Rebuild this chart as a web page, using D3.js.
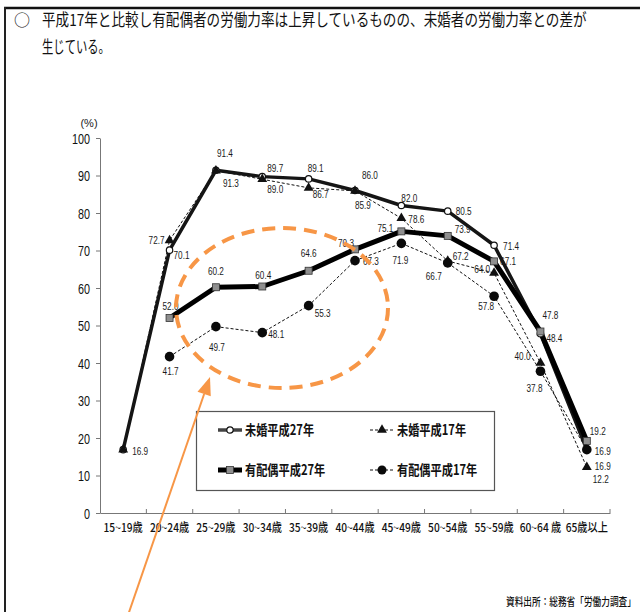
<!DOCTYPE html>
<html>
<head>
<meta charset="utf-8">
<script src="https://cdn.jsdelivr.net/npm/d3@7"></script>
<style>
  html, body { margin: 0; padding: 0; background: #fff; }
  svg { display: block; }
</style>
</head>
<body>
<svg id="chart" width="640" height="612"></svg>
<script>
// ---- data ----
const categories = ["15~19歳", "20~24歳", "25~29歳", "30~34歳", "35~39歳", "40~44歳",
                    "45~49歳", "50~54歳", "55~59歳", "60~64 歳", "65歳以上"];
const yTicks = [0, 10, 20, 30, 40, 50, 60, 70, 80, 90, 100];

const unmarried2015 = [16.9, 70.1, 91.4, 89.7, 89.1, 86.0, 82.0, 80.5, 71.4, 47.8, 16.9];
const unmarried2005 = [16.9, 72.7, 91.3, 89.0, 86.7, 85.9, 78.6, 67.2, 64.0, 40.0, 12.2];
const married2015   = [null, 52.0, 60.2, 60.4, 64.6, 70.3, 75.1, 73.9, 67.1, 48.4, 19.2];
const married2005   = [null, 41.7, 49.7, 48.1, 55.3, 67.3, 71.9, 66.7, 57.8, 37.8, 16.9];

const seriesNames = ["未婚平成27年", "未婚平成17年", "有配偶平成27年", "有配偶平成17年"];
const titleLines = ["平成17年と比較し有配偶者の労働力率は上昇しているものの、未婚者の労働力率との差が",
                    "生じている。"];
const unitLabel = "(%)";
const sourceNote = "資料出所：総務省「労働力調査」";

// ---- value label placement (offset from the point: dx, dy, anchor) ----
const offUnmarried2015 = [[9,5,"start"],[4,9,"start"],[9,-13,"middle"],[5,-5,"start"],[-1,-7,"start"],
  [7,-12,"start"],[0,-4,"start"],[8,4,"start"],[9,5,"start"],[2,-15,"start"],[8,20,"start"]];
const offUnmarried2005 = [null,[-5,4,"end"],[7,16,"start"],[5,14,"start"],[4,10,"start"],
  [0,18,"start"],[7,5,"start"],[5,-1,"start"],[-4,0,"end"],[-10,-3,"end"],[6,16,"start"]];
const offMarried2015 = [null,[-7,-8,"start"],[0,-12,"middle"],[1,-8,"middle"],[0,-14,"middle"],
  [-1,-2,"end"],[-8,1,"end"],[7,-3,"start"],[6,4,"start"],[6,10,"start"],[3,-6,"start"]];
const offMarried2005 = [null,[1,18,"middle"],[1,24,"middle"],[6,5,"start"],[6,11,"start"],
  [8,4,"start"],[-1,21,"middle"],[-6,17,"end"],[0,14,"end"],[2,21,"end"],[8,5,"start"]];

// ---- setup ----
const svg = d3.select("#chart");
const CJK = "'Noto Sans CJK JP', 'Noto Sans', sans-serif";
const LAT = "'Liberation Sans', Arial, sans-serif";
const ORANGE = "#F79646";

const x = d3.scaleBand().domain(categories).range([100, 610]).padding(0);
const cx = c => x(c) + x.bandwidth() / 2;
const y = d3.scaleLinear().domain([0, 100]).range([513, 138]);

// text squeezed horizontally to a given width
function fittedText(parent, tx, ty, str, width, attrs) {
  const g = parent.append("g").attr("transform", `translate(${tx},${ty})`);
  const t = g.append("text").text(str);
  Object.entries(attrs).forEach(([k, v]) => t.attr(k, v));
  const w = t.node().getComputedTextLength();
  t.attr("transform", `scale(${width / w},1)`);
  return t;
}

// page frame
svg.append("line").attr("x1", 4).attr("x2", 640).attr("y1", 8).attr("y2", 8)
  .attr("stroke", "#111").attr("stroke-width", 2.5);
svg.append("line").attr("x1", 5).attr("x2", 5).attr("y1", 7).attr("y2", 612)
  .attr("stroke", "#222").attr("stroke-width", 2);

// heading
svg.append("text").attr("x", 14).attr("y", 26).attr("font-family", CJK)
  .attr("font-size", 16).attr("fill", "#111").text("○");
const headAttrs = { "font-family": CJK, "font-size": 16.5, "fill": "#111" };
fittedText(svg, 42, 26, titleLines[0], 545, headAttrs);
fittedText(svg, 42, 53, titleLines[1], 68, headAttrs);

// y axis
const gy = svg.append("g").attr("transform", "translate(100,0)")
  .call(d3.axisLeft(y).tickValues(yTicks).tickSize(4).tickSizeOuter(0));
gy.select(".domain").attr("stroke", "#777").attr("stroke-width", 1);
gy.selectAll(".tick line").attr("stroke", "#777");
gy.selectAll(".tick text")
  .attr("font-family", LAT).attr("font-size", 15).attr("fill", "#111")
  .attr("transform", "scale(0.72,1)").attr("x", -10 / 0.72).attr("dy", "0.36em");

svg.append("text").attr("x", 89).attr("y", 127).attr("text-anchor", "middle")
  .attr("font-family", LAT).attr("font-size", 11).attr("fill", "#222").text(unitLabel);

// x axis
const gx = svg.append("g").attr("transform", "translate(0,513)")
  .call(d3.axisBottom(x).tickSize(0).tickSizeOuter(0).tickPadding(10));
gx.select(".domain").attr("stroke", "#777").attr("stroke-width", 1);
gx.selectAll(".tick text")
  .attr("font-family", CJK).attr("font-size", 12).attr("font-weight", 500).attr("fill", "#111")
  .attr("transform", "scale(0.85,1)");
gx.selectAll("line.bound")
  .data(categories.slice(1).map(c => x(c)).concat([x.range()[1]]))
  .join("line").attr("class", "bound")
  .attr("x1", d => d).attr("x2", d => d).attr("y1", 0).attr("y2", -4)
  .attr("stroke", "#777");

// ---- series ----
const toPoints = vals => vals.map((v, i) => ({ c: categories[i], v }));
const line = d3.line().defined(d => d.v != null).x(d => cx(d.c)).y(d => y(d.v));

const series = [
  { name: seriesNames[1], pts: toPoints(unmarried2005), off: offUnmarried2005,
    stroke: "#111", width: 1, dash: "3,2" },
  { name: seriesNames[3], pts: toPoints(married2005), off: offMarried2005,
    stroke: "#111", width: 1, dash: "3,2" },
  { name: seriesNames[0], pts: toPoints(unmarried2015), off: offUnmarried2015,
    stroke: "#151515", width: 3.5, dash: null },
  { name: seriesNames[2], pts: toPoints(married2015), off: offMarried2015,
    stroke: "#000", width: 5, dash: null }
];

const gLines = svg.append("g");
series.forEach(s => {
  gLines.append("path").datum(s.pts)
    .attr("d", line).attr("fill", "none")
    .attr("stroke", s.stroke).attr("stroke-width", s.width)
    .attr("stroke-dasharray", s.dash).attr("stroke-linejoin", "round");
});

const byName = n => series.find(s => s.name === n);
const valid = s => s.pts.filter(d => d.v != null);
const gMarks = svg.append("g");

// open circles: 未婚平成27年
gMarks.selectAll("circle.u15").data(valid(byName(seriesNames[0]))).join("circle")
  .attr("class", "u15").attr("cx", d => cx(d.c)).attr("cy", d => y(d.v)).attr("r", 3.2)
  .attr("fill", "#fff").attr("stroke", "#111").attr("stroke-width", 1.2);
// grey squares: 有配偶平成27年
gMarks.selectAll("rect.m15").data(valid(byName(seriesNames[2]))).join("rect")
  .attr("class", "m15").attr("x", d => cx(d.c) - 3.5).attr("y", d => y(d.v) - 3.5)
  .attr("width", 7).attr("height", 7)
  .attr("fill", "#8f8f8f").attr("stroke", "#333").attr("stroke-width", 0.8);
// triangles: 未婚平成17年
const tri = d3.symbol().type(d3.symbolTriangle).size(42);
gMarks.selectAll("path.u05").data(valid(byName(seriesNames[1]))).join("path")
  .attr("class", "u05").attr("d", tri)
  .attr("transform", d => `translate(${cx(d.c)},${y(d.v)})`).attr("fill", "#111");
// filled circles: 有配偶平成17年
gMarks.selectAll("circle.m05").data(valid(byName(seriesNames[3]))).join("circle")
  .attr("class", "m05").attr("cx", d => cx(d.c)).attr("cy", d => y(d.v)).attr("r", 4.8)
  .attr("fill", "#0a0a0a");

// value labels
const gLab = svg.append("g");
series.forEach(s => {
  s.pts.forEach((d, i) => {
    const o = s.off[i];
    if (d.v == null || !o) return;
    gLab.append("g")
      .attr("transform", `translate(${cx(d.c) + o[0]},${y(d.v) + o[1]})`)
      .append("text").attr("transform", "scale(0.78,1)")
      .attr("text-anchor", o[2]).attr("font-family", LAT).attr("font-size", 10.5)
      .attr("fill", "#1a1a1a").text(d.v.toFixed(1));
  });
});

// ---- legend ----
const gLeg = svg.append("g");
gLeg.append("rect").attr("x", 196.5).attr("y", 411.5).attr("width", 298).attr("height", 79)
  .attr("fill", "#fff").attr("stroke", "#555").attr("stroke-width", 1.2);

const legendItems = [
  { name: seriesNames[0], x: 218, y: 430, kind: "u15" },
  { name: seriesNames[1], x: 370, y: 430, kind: "u05" },
  { name: seriesNames[2], x: 218, y: 470, kind: "m15" },
  { name: seriesNames[3], x: 370, y: 470, kind: "m05" }
];
legendItems.forEach(it => {
  const g = gLeg.append("g").attr("transform", `translate(${it.x},${it.y})`);
  const s = byName(it.name);
  g.append("line").attr("x1", 0).attr("x2", 24).attr("y1", 0).attr("y2", 0)
    .attr("stroke", it.kind === "u15" ? "#444" : s.stroke).attr("stroke-width", s.width)
    .attr("stroke-dasharray", s.dash);
  if (it.kind === "u15") {
    g.append("circle").attr("cx", 12).attr("r", 3.2).attr("fill", "#fff")
      .attr("stroke", "#111").attr("stroke-width", 1.2);
  } else if (it.kind === "m15") {
    g.append("rect").attr("x", 8.5).attr("y", -3.5).attr("width", 7).attr("height", 7)
      .attr("fill", "#8f8f8f").attr("stroke", "#333").attr("stroke-width", 0.8);
  } else if (it.kind === "u05") {
    g.append("path").attr("d", tri).attr("transform", "translate(12,0)").attr("fill", "#111");
  } else {
    g.append("circle").attr("cx", 12).attr("r", 4.5).attr("fill", "#0a0a0a");
  }
  g.append("g").attr("transform", "translate(27,5)")
    .append("text").attr("transform", "scale(0.8,1)")
    .attr("font-family", CJK).attr("font-size", 14).attr("font-weight", 700)
    .attr("fill", "#111").text(it.name);
});

// source note
fittedText(svg, 506, 606, sourceNote, 130,
  { "font-family": CJK, "font-size": 11, "font-weight": 500, "fill": "#111" });

// ---- highlight: dashed ellipse and pointer arrow ----
svg.append("ellipse").attr("cx", 282).attr("cy", 308).attr("rx", 106).attr("ry", 80)
  .attr("fill", "none").attr("stroke", ORANGE).attr("stroke-width", 4)
  .attr("stroke-dasharray", "13,8");

const tip = [210, 377], tail = [126, 621];
const len = Math.hypot(tip[0] - tail[0], tip[1] - tail[1]);
const u = [(tip[0] - tail[0]) / len, (tip[1] - tail[1]) / len];
const nrm = [-u[1], u[0]];
const headL = 18, headW = 7;
const base = [tip[0] - headL * u[0], tip[1] - headL * u[1]];
svg.append("line").attr("x1", tail[0]).attr("y1", tail[1])
  .attr("x2", base[0]).attr("y2", base[1])
  .attr("stroke", ORANGE).attr("stroke-width", 2);
svg.append("path")
  .attr("d", `M${tip[0]},${tip[1]}L${base[0] + headW * nrm[0]},${base[1] + headW * nrm[1]}` +
             `L${base[0] - headW * nrm[0]},${base[1] - headW * nrm[1]}Z`)
  .attr("fill", ORANGE);
</script>
</body>
</html>
